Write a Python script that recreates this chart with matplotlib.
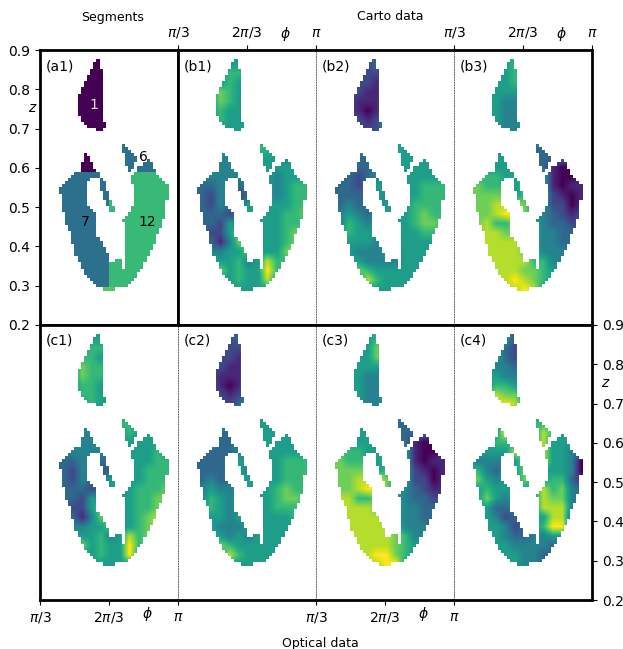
import numpy as np
import matplotlib
matplotlib.use("Agg")
import matplotlib.pyplot as plt

W, H = 623, 649
NCOL, NROW = 44, 88
ROW0, COL0, BLOCK = 3, 6, 3

# filled cells of the shared mask: row -> inclusive column spans
SPANS = {
 3:[(18,18)],4:[(17,18)],5:[(17,18)],6:[(16,19)],7:[(16,19)],8:[(15,19)],9:[(15,19)],
 10:[(14,19)],11:[(14,19)],12:[(13,19)],13:[(13,19)],14:[(12,19)],15:[(12,19)],16:[(12,19)],
 17:[(12,19)],18:[(12,19)],19:[(12,19)],20:[(12,19)],21:[(13,19)],22:[(13,19)],23:[(14,20)],
 24:[(15,20)],25:[(18,19)],
 30:[(26,26)],31:[(26,27)],32:[(26,28)],33:[(14,14),(27,29)],34:[(14,15),(27,30)],
 35:[(14,15),(27,30),(34,34)],36:[(13,16),(27,29),(33,35)],37:[(13,16),(28,29),(31,35)],
 38:[(13,17),(28,28),(31,36)],39:[(11,18),(30,36)],40:[(10,18),(29,37)],
 41:[(9,15),(19,19),(29,38)],42:[(8,14),(19,20),(29,39)],43:[(7,14),(19,20),(30,40)],
 44:[(6,14),(19,20),(30,40)],45:[(6,14),(20,21),(30,40)],46:[(7,14),(20,21),(30,40)],
 47:[(7,14),(20,21),(30,40)],48:[(7,14),(21,22),(30,39)],49:[(7,14),(21,22),(30,39)],
 50:[(7,15),(22,23),(29,39)],51:[(7,16),(22,23),(29,39)],52:[(8,17),(28,39)],53:[(8,17),(27,39)],
 54:[(8,17),(26,38)],55:[(8,17),(27,38)],56:[(9,17),(27,38)],57:[(9,17),(27,37)],58:[(10,17),(27,37)],
 59:[(10,17),(27,36)],60:[(10,18),(27,36)],61:[(10,19),(27,36)],62:[(11,19),(27,35)],
 63:[(11,20),(27,35)],64:[(11,20),(27,34)],65:[(11,21),(27,34)],66:[(12,21),(27,33)],
 67:[(12,21),(24,25),(27,33)],68:[(13,25),(27,32)],69:[(13,25),(27,32)],70:[(14,31)],71:[(14,30)],
 72:[(15,30)],73:[(16,29)],74:[(17,28)],75:[(18,27)],76:[(20,23)],
}

# estimated colour levels (0-9) per 3x3 block of cells, first block at row 3, column 6
B1 = ["555555555555","555665555555","555655555555","557655555555","557655555555","556555555555",
      "556555555555","555555555555","555555555555","555555665555","554455555455","554455555555",
      "444444554555","334434554566","324423554566","324335555566","333235555667","332545555666",
      "322575555677","331475555677","444557555788","555564586666","557565596666","555565585555",
      "555555555555"]
B2 = ["222232222222","222222555555","222215555555","222115555555","221115555555","221015555555",
      "222125555555","222225555555","555555555555","555555555555","553355555555","553355555555",
      "332345555555","332355555666","333354555666","343355556666","454345556766","465455556776",
      "565555555666","555545555555","554445455555","555444455555","557655555555","555865555555",
      "555555555555"]
B3 = ["555565555555","555565555555","555565555555","555555555555","555445555555","555445555555",
      "555445555555","555445555555","555555555555","555555333333","555555333333","555555331001",
      "666556551001","766656551011","777756552101","778887552201","778997543212","786677543322",
      "788777544333","888887544333","888887644433","888888664433","888887765533","888898765555",
      "888889855555"]
C1 = ["555555555555","555665555555","556655555555","557665555555","557665555555","556655555555",
      "556655555555","555655555555","555555555555","555555665555","554455565555","554455555555",
      "444444555565","334434555566","324423555666","324335555666","333235556667","332545556677",
      "322575556677","331475556788","444557556788","555564586766","557565596766","555565595555",
      "555555555555"]
C2 = ["222232222222","222225555555","222215555555","222115555555","221115555555","221015555555",
      "222125555555","222235555555","555555555555","555555555555","553355555555","553355555555",
      "333345555555","333355555666","333354555666","343355555666","454445556766","465455556776",
      "565455556666","555455555566","554445555555","555454555555","557655555555","555865555555",
      "555555555555"]
C3 = ["555565555555","555575555555","555575555555","555555555555","555445555555","555445555555",
      "555445555555","555445555555","555555555555","555555333333","555555333333","555555331001",
      "666556551001","766656551011","777756552101","778897552201","778997543211","886678543322",
      "888878544333","888887544333","888888644433","888888764433","888888765533","888899765555",
      "888889955555"]
C4 = ["555525555555","555325555555","555325555555","554435555555","555445555555","556655555555",
      "558775555555","558985555555","555555555555","555555665555","555955586555","556655585555",
      "555587585544","444457585540","643457555540","754557556631","565555586743","575455587743",
      "553345588843","554233558833","555423569933","555433445533","555544443333","555554433333",
      "555554433333"]

PANEL_LABELS = ["(a1)", "(b1)", "(b2)", "(b3)", "(c1)", "(c2)", "(c3)", "(c4)"]
YTICKS = [0.2, 0.3, 0.4, 0.5, 0.6, 0.7, 0.8, 0.9]
XTICKS = [np.pi / 3, 2 * np.pi / 3, np.pi]
XTICKLABELS = [r"$\pi/3$", r"$2\pi/3$", r"$\pi$"]
SEGMENT_LABELS = [("1", 1.867, 0.76, "#dddddd"), ("6", 2.61, 0.628, "black"),
                  ("7", 1.73, 0.462, "black"), ("12", 2.67, 0.462, "black")]

XMIN, XMAX, ZMIN, ZMAX = np.pi / 3, np.pi, 0.2, 0.9
DX = (XMAX - XMIN) / NCOL
DZ = (ZMAX - ZMIN) / NROW
extent = [XMIN, XMAX, ZMIN, ZMAX]

mask = np.zeros((NROW, NCOL), bool)
for r, spans in SPANS.items():
    for a, b in spans:
        mask[r, a:b + 1] = True

# white everywhere outside the shared mask
cover = np.zeros((NROW, NCOL, 4))
cover[..., :3] = 1.0
cover[..., 3] = (~mask).astype(float)

seg = np.full((NROW, NCOL), np.nan)
for r, c in zip(*np.nonzero(mask)):
    if r == 76:
        seg[r, c] = 13
    elif r <= 26 or (r <= 38 and c < 20):
        seg[r, c] = 1
    elif r <= 38 or c < 22:
        seg[r, c] = 7
    else:
        seg[r, c] = 12
seg = np.ma.masked_invalid(seg)


def blocks_to_array(blocks):
    return np.array([[int(ch) for ch in row] for row in blocks], float)


fig = plt.figure(figsize=(W / 100, H / 100), dpi=100)
cols = [40, 178, 316, 454]
rows = [50, 325]
PW, PH = 138, 275
panels = [None, B1, B2, B3, C1, C2, C3, C4]
THICK = 2.0

for k, blocks in enumerate(panels):
    i, j = k // 4, k % 4
    ax = fig.add_axes([cols[j] / W, 1 - (rows[i] + PH) / H, PW / W, PH / H])
    if blocks is None:
        ax.imshow(seg, extent=extent, aspect="auto", cmap="viridis", vmin=1, vmax=17.2,
                  interpolation="nearest")
    else:
        arr = blocks_to_array(blocks)
        nr, nc = arr.shape
        block_extent = [XMIN + COL0 * DX, XMIN + (COL0 + nc * BLOCK) * DX,
                        ZMAX - (ROW0 + nr * BLOCK) * DZ, ZMAX - ROW0 * DZ]
        ax.imshow(arr, extent=block_extent, aspect="auto", cmap="viridis", vmin=0, vmax=9,
                  interpolation="bilinear", zorder=1)
        ax.imshow(cover, extent=extent, aspect="auto", interpolation="nearest", zorder=2)
    ax.set_xlim(XMIN, XMAX)
    ax.set_ylim(ZMIN, ZMAX)
    ax.text(6 / PW, 1 - 16 / PH, PANEL_LABELS[k], transform=ax.transAxes, va="center", ha="left",
            fontsize=10, zorder=5)

    ax.set_xticks([])
    ax.set_yticks([])
    if k in (1, 3):
        ax.xaxis.tick_top()
        ax.set_xticks(XTICKS, XTICKLABELS)
        ax.text(107 / PW, 1 + 16 / PH, r"$\phi$", transform=ax.transAxes, ha="center", va="center")
    if k in (4, 6):
        ax.set_xticks(XTICKS, XTICKLABELS)
        ax.text(107 / PW, -14 / PH, r"$\phi$", transform=ax.transAxes, ha="center", va="center")
    if k == 0:
        ax.set_yticks(YTICKS)
        ax.text(-7 / PW, 1 - 58 / PH, r"$z$", transform=ax.transAxes, ha="center", va="center")
        for txt, x, y, col in SEGMENT_LABELS:
            ax.text(x, y, txt, color=col, ha="center", va="center", fontsize=10)
    if k == 7:
        ax.yaxis.tick_right()
        ax.set_yticks(YTICKS)
        ax.text(1 + 14 / PW, 1 - 58 / PH, r"$z$", transform=ax.transAxes, ha="center", va="center")

    for name, sp in ax.spines.items():
        sp.set_linewidth(THICK)
        sp.set_color("black")
    inner_left = j > 0 and not (i == 0 and j == 1)
    inner_right = j < 3 and not (i == 0 and j == 0)
    if inner_left:
        ax.spines["left"].set(linewidth=0.7, linestyle=":", color="#666666")
    if inner_right:
        ax.spines["right"].set(linewidth=0.7, linestyle=":", color="#666666")

fig.text(113 / W, 1 - 17 / H, "Segments", ha="center", va="center", fontsize=9)
fig.text(390 / W, 1 - 17 / H, "Carto data", ha="center", va="center", fontsize=9)
fig.text(320 / W, 1 - 643 / H, "Optical data", ha="center", va="center", fontsize=9)
fig.savefig("out.png", dpi=100)
